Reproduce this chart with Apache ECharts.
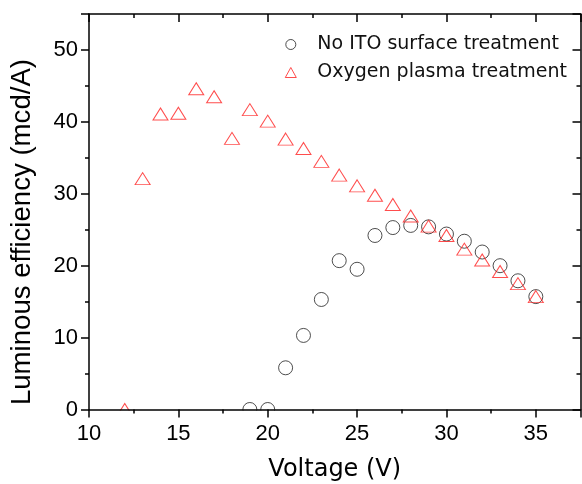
<!DOCTYPE html>
<html>
<head>
<meta charset="utf-8">
<script src="https://cdn.jsdelivr.net/npm/echarts@6/dist/echarts.min.js"></script>
<style>html,body{margin:0;padding:0;background:#fff}#c{width:582px;height:484px}</style>
</head>
<body>
<div id="c"></div>
<script>
var noItoVoltage = [19, 20, 21, 22, 23, 24, 25, 26, 27, 28, 29, 30, 31, 32, 33, 34, 35];
var noItoEff = [0, 0, 5.8, 10.3, 15.3, 20.7, 19.5, 24.2, 25.3, 25.6, 25.4, 24.4, 23.4, 21.9, 20.0, 17.9, 15.7];
var plasmaVoltage = [12, 13, 14, 15, 16, 17, 18, 19, 20, 21, 22, 23, 24, 25, 26, 27, 28, 29, 30, 31, 32, 33, 34, 35];
var plasmaEff = [0, 32.1, 41.1, 41.2, 44.6, 43.5, 37.7, 41.7, 40.1, 37.6, 36.3, 34.5, 32.6, 31.1, 29.8, 28.5, 26.9, 25.5, 24.2, 22.3, 20.8, 19.2, 17.5, 15.7];
var seriesNames = ['No ITO surface treatment', 'Oxygen plasma treatment'];
var xTitle = 'Voltage (V)';
var yTitle = 'Luminous efficiency (mcd/A)';

function pairs(xs, ys) { return xs.map(function (x, i) { return [x, ys[i]]; }); }

var axisColor = '#000';
var chart = echarts.init(document.getElementById('c'), null, { renderer: 'canvas' });
var baseX = {
  type: 'value', min: 10, max: 37.5, interval: 5, z: 10,
  axisLine: { show: true, onZero: false, lineStyle: { color: axisColor, width: 1.5 } },
  splitLine: { show: false }
};
var baseY = {
  type: 'value', min: 0, max: 55, interval: 10, z: 10,
  axisLine: { show: true, onZero: false, lineStyle: { color: axisColor, width: 1.5 } },
  splitLine: { show: false }
};
chart.setOption({
  animation: false,
  backgroundColor: '#fff',
  grid: { left: 89, right: 1.5, top: 14, bottom: 74.5, containLabel: false, outerBoundsMode: 'none' },
  legend: {
    orient: 'vertical', left: 279.8, top: 30, itemWidth: 11, itemHeight: 10, itemGap: 9,
    symbolKeepAspect: true,
    selectedMode: false,
    textStyle: { fontFamily: 'DejaVu Sans', fontSize: 19, color: '#111', padding: [0, 0, 0, 16] },
    data: [
      { name: seriesNames[0], icon: 'circle', itemStyle: { color: 'rgba(0,0,0,0)', borderColor: '#222', borderWidth: 1 } },
      { name: seriesNames[1], icon: 'triangle', itemStyle: { color: 'rgba(0,0,0,0)', borderColor: '#ff2020', borderWidth: 1 } }
    ]
  },
  xAxis: [
    Object.assign({}, baseX, {
      position: 'bottom',
      name: xTitle, nameLocation: 'middle', nameGap: 48,
      nameTextStyle: { fontFamily: 'DejaVu Sans', fontSize: 24, color: '#000' },
      axisTick: { show: true, inside: false, length: 8, lineStyle: { color: axisColor, width: 1.5 } },
      minorTick: { show: true, splitNumber: 2, length: 4, lineStyle: { color: axisColor, width: 1.5 } },
      axisLabel: { show: true, margin: 13, showMaxLabel: false, fontFamily: 'Liberation Sans', fontSize: 22, color: '#000' }
    }),
    Object.assign({}, baseX, {
      position: 'top',
      axisTick: { show: true, inside: true, length: 8, lineStyle: { color: axisColor, width: 1.5 } },
      minorTick: { show: true, splitNumber: 2, length: 4, lineStyle: { color: axisColor, width: 1.5 } },
      axisLabel: { show: false }
    })
  ],
  yAxis: [
    Object.assign({}, baseY, {
      position: 'left',
      axisTick: { show: true, inside: false, length: 8, lineStyle: { color: axisColor, width: 1.5 } },
      minorTick: { show: true, splitNumber: 2, length: 4, lineStyle: { color: axisColor, width: 1.5 } },
      axisLabel: { show: true, margin: 11, showMaxLabel: false, fontFamily: 'Liberation Sans', fontSize: 22, color: '#000' }
    }),
    Object.assign({}, baseY, {
      position: 'right',
      axisTick: { show: true, inside: true, length: 8, lineStyle: { color: axisColor, width: 1.5 } },
      minorTick: { show: true, splitNumber: 2, length: 4, lineStyle: { color: axisColor, width: 1.5 } },
      axisLabel: { show: false }
    })
  ],
  graphic: [
    {
      type: 'rect', left: 0, top: 410.5, z: 5, silent: true,
      shape: { width: 582, height: 73 },
      style: { fill: '#fff' }
    },
    {
      type: 'text', left: 8, top: 59, rotation: Math.PI / 2,
      style: { text: yTitle, fontFamily: 'Liberation Sans', fontSize: 27.6, fill: '#000' },
      z: 100
    }
  ],
  series: [
    {
      name: seriesNames[0], type: 'scatter', xAxisIndex: 0, yAxisIndex: 0,
      symbol: 'circle', symbolSize: 14,
      itemStyle: { color: 'rgba(0,0,0,0)', borderColor: '#222', borderWidth: 1 },
      emphasis: { disabled: true },
      data: pairs(noItoVoltage, noItoEff)
    },
    {
      name: seriesNames[1], type: 'scatter', xAxisIndex: 0, yAxisIndex: 0,
      symbol: 'triangle', symbolSize: [15, 12],
      itemStyle: { color: 'rgba(0,0,0,0)', borderColor: '#ff2020', borderWidth: 1 },
      emphasis: { disabled: true },
      data: pairs(plasmaVoltage, plasmaEff)
    }
  ]
});
</script>
</body>
</html>
